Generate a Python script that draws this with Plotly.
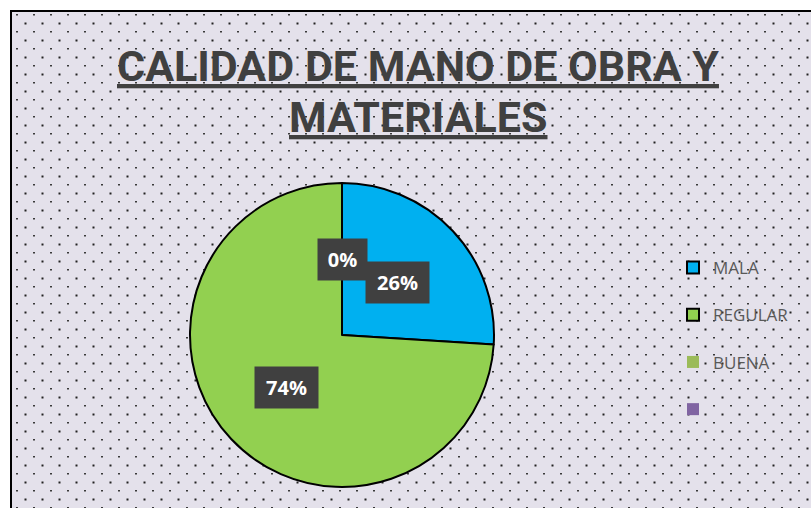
import math
import urllib.parse
import plotly.graph_objects as go

# ---- data ----
labels = ["MALA", "REGULAR", "BUENA", " "]
values = [26, 74, 0, 0]
colors = ["#00B0F0", "#92D050", "#9BBB59", "#8064A2"]
line_colors = ["#000000", "#000000", "rgba(0,0,0,0)", "rgba(0,0,0,0)"]
title_lines = ["CALIDAD DE MANO DE OBRA Y", "MATERIALES"]
label_texts = ["26%", "74%", "0%", None]

W, H = 811, 508
# pie geometry (pixels)
CX, CY, R = 342, 335, 152

# dotted background as an svg pattern
svg = (
    f'<svg xmlns="http://www.w3.org/2000/svg" width="{W}" height="{H}">'
    '<defs><pattern id="p" width="17" height="17" patternUnits="userSpaceOnUse">'
    '<rect x="5" y="3" width="2" height="1.5" fill="#3a3a3a"/>'
    '<rect x="13.5" y="11.5" width="2" height="2" fill="#222"/>'
    '</pattern></defs>'
    f'<rect width="{W}" height="{H}" fill="#E4E1EB"/>'
    f'<rect width="{W}" height="{H}" fill="url(#p)"/>'
    '</svg>'
)
bg_uri = "data:image/svg+xml;charset=utf-8," + urllib.parse.quote(svg)

# legend entries get a blank second line for Excel-like spacing
legend_labels = [f"{l}<br> " for l in labels]

fig = go.Figure()
fig.add_trace(go.Pie(
    labels=legend_labels,
    values=values,
    sort=False,
    direction="clockwise",
    rotation=0,
    textinfo="none",
    hoverinfo="percent",
    marker=dict(colors=colors, line=dict(color=line_colors, width=2)),
    domain=dict(x=[(CX - R) / W, (CX + R) / W],
                y=[(H - CY - R) / H, (H - CY + R) / H]),
    showlegend=True,
))

# data labels: at half radius on each slice's mid angle
total = sum(values)
acc = 0
annotations = []
for v, t in zip(values, label_texts):
    mid = (acc + v / 2) / total * 2 * math.pi
    acc += v
    if t is None:
        continue
    px = CX + 0.5 * R * math.sin(mid)
    py = CY - 0.5 * R * math.cos(mid)
    w = 45 if len(t) == 2 else 59
    annotations.append(dict(
        x=px / W, y=1 - py / H, xref="paper", yref="paper",
        text=f"<b>{t}</b>", showarrow=False,
        font=dict(family="Open Sans, Arial", size=20, color="white"),
        bgcolor="#404040", width=w, height=37, borderpad=2,
        xanchor="center", yanchor="middle",
    ))

# title lines
title_font = dict(family="Roboto, Arial", size=43, color="#404040")
for i, (line, yc) in enumerate(zip(title_lines, [66, 117])):
    annotations.append(dict(
        x=418 / W, y=1 - yc / H, xref="paper", yref="paper",
        text=f"<b><u>{line}</u></b>", showarrow=False, font=title_font,
        xanchor="center", yanchor="middle",
    ))

fig.update_layout(
    width=W, height=H,
    margin=dict(l=0, r=0, t=0, b=0),
    paper_bgcolor="white",
    plot_bgcolor="rgba(0,0,0,0)",
    images=[dict(source=bg_uri, xref="paper", yref="paper",
                 x=11 / W, y=1 - 11 / H, sizex=1, sizey=1,
                 xanchor="left", yanchor="top", sizing="stretch", layer="below")],
    shapes=[dict(type="rect", xref="paper", yref="paper",
                 x0=11 / W, x1=1.05, y0=-0.05, y1=1 - 11 / H,
                 line=dict(color="black", width=2), fillcolor="rgba(0,0,0,0)",
                 layer="above")],
    annotations=annotations,
    legend=dict(
        x=673 / W, y=1 - 250 / H, xanchor="left", yanchor="top",
        bgcolor="rgba(0,0,0,0)",
        font=dict(family="Open Sans, Arial", size=17, color="#595959"),
        traceorder="normal", valign="top",
    ),
)

fig.write_html("out.html", post_script="document.body.style.margin='0';",
               config={"displayModeBar": False})
